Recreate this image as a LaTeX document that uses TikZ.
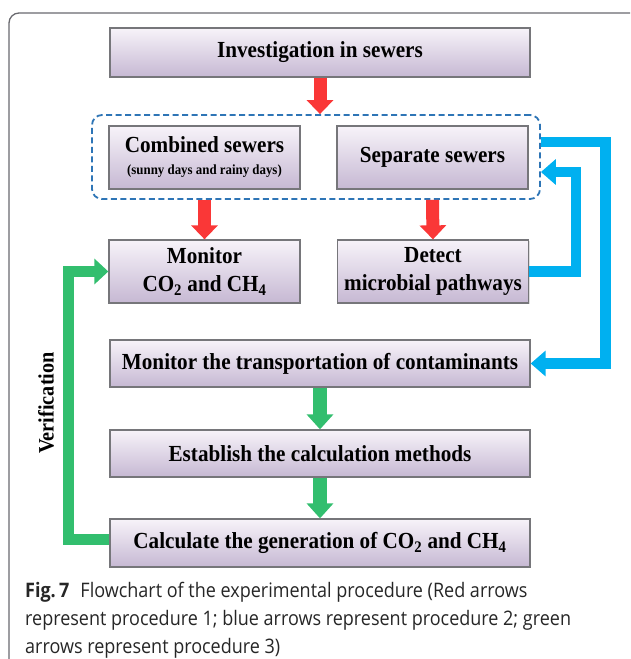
\documentclass[tikz,border=0pt]{standalone}
\usepackage{fontspec}
\setmainfont{Liberation Serif}[FakeStretch=0.92]
\newfontfamily\capfont{Open Sans}[FakeStretch=0.9]
\usetikzlibrary{arrows.meta,calc,shadows}

\definecolor{redarrow}{RGB}{250,55,55}
\definecolor{bluearrow}{RGB}{0,176,240}
\definecolor{greenarrow}{RGB}{50,190,110}
\definecolor{dashblue}{RGB}{46,117,182}
\definecolor{boxtop}{RGB}{247,243,249}
\definecolor{boxbottom}{RGB}{198,184,211}
\definecolor{boxline}{RGB}{118,118,122}
\definecolor{framegray}{RGB}{105,105,110}

\tikzset{
  stage/.style={draw=boxline,line width=1.3pt,top color=boxtop,bottom color=boxbottom,
    rectangle,inner sep=0pt,minimum width=420pt,minimum height=48pt,align=center,
    font=\bfseries\fontsize{23}{28}\selectfont,
    drop shadow={shadow xshift=1.2pt,shadow yshift=-1.2pt,opacity=0.25}},
  halfstage/.style={stage,minimum width=191pt,minimum height=63pt},
  group/.style={draw=dashblue,line width=1.8pt,dash pattern=on 6pt off 3.5pt,
    rounded corners=10pt,inner sep=0pt,minimum width=448pt,minimum height=84pt},
  redflow/.style={draw=redarrow,line width=13pt,-{Triangle[width=26pt,length=14pt]}},
  blueflow/.style={draw=bluearrow,line width=10.5pt,line join=miter,-{Triangle[width=25pt,length=15pt]}},
  greenflow/.style={draw=greenarrow,line width=14pt,-{Triangle[width=26pt,length=15pt]}},
  greenloop/.style={draw=greenarrow,line width=11pt,line join=miter,-{Triangle[width=25pt,length=14pt]}},
}

\begin{document}
\begin{tikzpicture}[x=1pt,y=-1pt]
        \useasboundingbox (0,0) rectangle (630,659);
        \clip (0,0) rectangle (630,659);
        %% Frame
        \draw[framegray,line width=1.3pt,rounded corners=10pt] (9,13) rectangle (642,671);
        %% Boxes
        \node[stage,minimum height=49pt] (inv) at (320,52.5) {Investigation in sewers};
        \node[group] (grp) at (316,157) {};
        \node[halfstage] (comb) at (204.5,157.5) {Combined sewers\\[-6pt]{\fontsize{14}{15}\selectfont (sunny days and rainy days)}};
        \node[halfstage] (sep) at (432.5,157.5) {Separate sewers};
        \node[halfstage] (mon) at (204.5,271.5) {Monitor\\CO\textsubscript{2} and CH\textsubscript{4}};
        \node[halfstage] (det) at (433,271.5) {Detect\\microbial pathways};
        \node[stage,minimum height=47pt] (trans) at (320,363.5) {Monitor the transportation of contaminants};
        \node[stage,minimum height=47pt] (est) at (320,453.5) {Establish the calculation methods};
        \node[stage] (calc) at (320,543) {Calculate the generation of CO\textsubscript{2} and CH\textsubscript{4}};
        \node[rotate=90,font=\bfseries\fontsize{22}{24}\selectfont] (verif) at (46,403) {Verification};
        %% Procedure 1
        \draw[redflow] (inv.south) -- (inv.south |- grp.north);
        \draw[redflow] (comb.south |- grp.south) -- (mon.north);
        \draw[redflow] (sep.south |- grp.south) -- (det.north);
        %% Procedure 2
        \draw[blueflow] ($(grp.east)+(0,-15)$) -| ($(trans.east)+(75,0)$) -- (trans.east);
        \draw[blueflow] (det.east) -- ++(47,0) |- ($(grp.east)+(0,15)$);
        %% Procedure 3
        \draw[greenflow] (trans.south) -- (est.north);
        \draw[greenflow] (est.south) -- (calc.north);
        \draw[greenloop] ($(calc.west)+(0,-4)$) -- ++(-41,0) |- (mon.west);
        %% Caption
        \node[anchor=north west,align=left,inner sep=0pt,font=\capfont\fontsize{20}{28}\selectfont,text=black!85] (cap) at (25,582)
          {\textbf{Fig.\,7}\hspace{0.55em}Flowchart of the experimental procedure (Red arrows\\
           represent procedure 1; blue arrows represent procedure 2; green\\
           arrows represent procedure 3)};
    \end{tikzpicture}
\end{document}
